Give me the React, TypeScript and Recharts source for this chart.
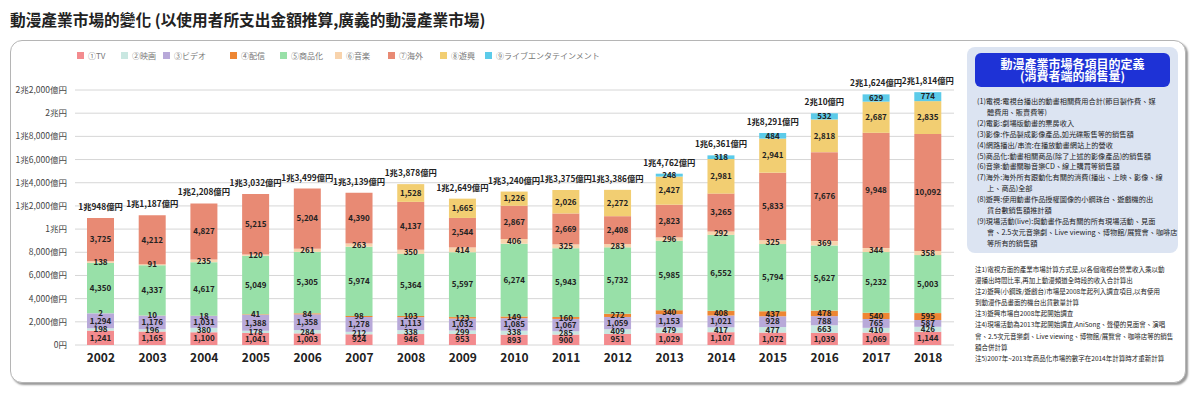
import React from 'react';
import { BarChart, Bar, XAxis, YAxis, CartesianGrid, Legend, LabelList } from 'recharts';

const years = ['2002', '2003', '2004', '2005', '2006', '2007', '2008', '2009', '2010', '2011', '2012', '2013', '2014', '2015', '2016', '2017', '2018'];
const tv = [1241, 1165, 1100, 1041, 1003, 924, 946, 953, 893, 900, 951, 1029, 1107, 1072, 1039, 1069, 1144];
const film = [198, 196, 380, 178, 284, 212, 338, 299, 338, 285, 409, 479, 417, 477, 663, 410, 426];
const video = [1294, 1176, 1031, 1388, 1358, 1278, 1113, 1032, 1085, 1067, 1059, 1153, 1021, 928, 788, 765, 587];
const stream = [2, 10, 18, 41, 84, 98, 103, 123, 149, 160, 272, 340, 408, 437, 478, 540, 595];
const merch = [4350, 4337, 4617, 5049, 5305, 5974, 5364, 5597, 6274, 5943, 5732, 5985, 6552, 5794, 5627, 5232, 5003];
const music = [138, 91, 235, 120, 261, 263, 350, 414, 406, 325, 283, 296, 292, 325, 369, 344, 358];
const overseas = [3725, 4212, 4827, 5215, 5204, 4390, 4137, 2544, 2867, 2669, 2408, 2823, 3265, 5833, 7676, 9948, 10092];
const pachinko = [0, 0, 0, 0, 0, 0, 1528, 1665, 1226, 2026, 2272, 2427, 2981, 2941, 2818, 2687, 2835];
const live = [0, 0, 0, 0, 0, 0, 0, 0, 0, 0, 0, 248, 318, 484, 532, 629, 774];
const totalLabels = ['1兆948億円', '1兆1,187億円', '1兆2,208億円', '1兆3,032億円', '1兆3,499億円', '1兆3,139億円', '1兆3,878億円', '1兆2,649億円', '1兆3,240億円', '1兆3,375億円', '1兆3,386億円', '1兆4,762億円', '1兆6,361億円', '1兆8,291億円', '2兆10億円', '2兆1,624億円', '2兆1,814億円'];
const yTicks = [0, 2000, 4000, 6000, 8000, 10000, 12000, 14000, 16000, 18000, 20000, 22000];

const series = [
  { key: 'tv', name: '①TV', color: '#F38B8E', values: tv },
  { key: 'film', name: '②映画', color: '#C9E7E1', values: film },
  { key: 'video', name: '③ビデオ', color: '#B8A9D9', values: video },
  { key: 'stream', name: '④配信', color: '#EE8633', values: stream },
  { key: 'merch', name: '⑤商品化', color: '#98E0A8', values: merch },
  { key: 'music', name: '⑥音楽', color: '#F8D3AC', values: music },
  { key: 'overseas', name: '⑦海外', color: '#E88A74', values: overseas },
  { key: 'pachinko', name: '⑧遊興', color: '#F2CE72', values: pachinko },
  { key: 'live', name: '⑨ライブエンタテインメント', color: '#5CCBE9', values: live },
];
const legendX = [77, 121, 163, 230, 280, 335, 388, 440, 485];

const definitions = [
  { t: '(1)電視:電視台播出的動畫相關費用合計(節目製作費、媒', i: false },
  { t: '體費用、販賣費等)', i: true },
  { t: '(2)電影:劇場版動畫的票房收入', i: false },
  { t: '(3)影像:作品製成影像產品,如光碟販售等的銷售額', i: false },
  { t: '(4)網路播出/串流:在播放動畫網站上的營收', i: false },
  { t: '(5)商品化:動畫相關商品(除了上述的影像產品)的銷售額', i: false },
  { t: '(6)音樂:動畫關聯音樂CD、線上購買等銷售額', i: false },
  { t: '(7)海外:海外所有跟動化有關的消費(播出、上映、影像、線', i: false },
  { t: '上、商品)全部', i: true },
  { t: '(8)遊興:使用動畫作品授權圖像的小鋼珠台、遊戲機的出', i: false },
  { t: '貨台數銷售額推計額', i: true },
  { t: '(9)現場活動(live):與動畫作品有關的所有現場活動、見面', i: false },
  { t: '會、2.5次元音樂劇、Live viewing、博物館/展覽會、咖啡店', i: true },
  { t: '等所有的銷售額', i: true },
];

const notes = [
  '注1)電視方面的產業市場計算方式是,以各個電視台營業收入乘以動',
  '漫播出時間比率,再加上動漫頻道全時段的收入合計算出',
  '注2)遊興(小鋼珠/遊戲台)市場是2008年起列入調查項目,以有使用',
  '到動漫作品畫面的機台出貨數量計算',
  '注3)遊興市場自2008年起開始調查',
  '注4)現場活動為2013年起開始調查,AniSong、聲優的見面會、演唱',
  '會、2.5次元音樂劇、Live viewing、博物館/展覽會、咖啡店等的銷售',
  '額合併計算',
  '注5)2007年~2013年商品化市場的數字在2014年計算時才重新計算',
];

const data = years.map((year, i) => {
  const row: any = { year, total: totalLabels[i] };
  series.forEach((s) => { row[s.key] = s.values[i]; });
  return row;
});

// highest non-zero segment of a row: that is where the total label sits
const topKeyOf = (row: any) => {
  let k = series[0].key;
  series.forEach((s) => { if (row[s.key] > 0) k = s.key; });
  return k;
};

const comma = (n: number) => String(n).replace(/\B(?=(\d{3})+(?!\d))/g, ',');
const yLabel = (v: number) => {
  if (v === 0) return '0円';
  if (v < 10000) return `${comma(v)}億円`;
  if (v % 10000 === 0) return `${v / 10000}兆円`;
  return `${Math.floor(v / 10000)}兆${comma(v % 10000)}億円`;
};

const FONT = '"Noto Sans CJK TC", "Noto Sans CJK JP", "Noto Sans", sans-serif';
const PLOT_TOP = 76;
const PLOT_H = 269;

const segLabel = (props: any) => {
  const vb = props.viewBox || props;
  const { x, y, width, height } = vb;
  const value = props.value;
  if (!value) return null;
  return (
    <text x={x + width / 2} y={y + height / 2} dy="0.35em" textAnchor="middle" fontSize={8} fontWeight={700} fill="#222" fontFamily={FONT}>
      {comma(value)}
    </text>
  );
};

const totalLabel = (props: any) => {
  if (!props.value) return null;
  const vb = props.viewBox || props;
  const { x, y, width } = vb;
  return (
    <text x={x + width / 2} y={y - 8} textAnchor="middle" fontSize={8.3} fontWeight={700} fill="#222" fontFamily={FONT}>
      {props.value}
    </text>
  );
};

const gridLine = (props: any) => {
  const { x1, x2, y1 } = props;
  const v = Math.round(((PLOT_TOP + PLOT_H - y1) / PLOT_H) * 22000);
  const dark = v === 4000 || v === 12000 || v === 20000;
  return <line key={`g${y1}`} x1={x1} x2={x2} y1={y1} y2={y1} stroke={dark ? '#9a9a9a' : '#d6d6d6'} strokeWidth={1} />;
};

const legendContent = () => (
  <div style={{ position: 'relative', height: 14, fontFamily: '"Noto Sans CJK JP", sans-serif' }}>
    {series.map((s, i) => (
      <div key={s.key} style={{ position: 'absolute', left: legendX[i], top: 0, display: 'flex', alignItems: 'center', fontSize: 8, color: '#777', whiteSpace: 'nowrap' }}>
        <span style={{ width: 7, height: 7, background: s.color, display: 'inline-block', marginRight: 4 }} />
        {s.name}
      </div>
    ))}
  </div>
);

export default function App() {
  return (
    <div style={{ position: 'absolute', left: 0, top: 0, width: 1200, height: 399, background: '#fff', fontFamily: FONT, overflow: 'hidden' }}>
      <div style={{ position: 'absolute', left: 10, top: 8, fontSize: 15.7, fontWeight: 700, color: '#222', whiteSpace: 'nowrap' }}>
        動漫產業市場的變化 (以使用者所支出金額推算,廣義的動漫產業市場)
      </div>
      <div style={{ position: 'absolute', left: 10, top: 40, width: 1174, height: 341, border: '1px solid #b5b5b5', borderRadius: 12, boxShadow: '2px 2px 2px #9a9a9a', background: '#fff' }} />
      <div style={{ position: 'absolute', left: 0, top: 0 }}>
        <BarChart width={958} height={399} data={data} margin={{ top: PLOT_TOP, right: 4, left: 10, bottom: 24 }} barSize={27}>
          <CartesianGrid vertical={false} horizontal={gridLine} />
          <XAxis dataKey="year" tickLine={false} axisLine={false} height={30} tick={{ fontSize: 12, fontWeight: 700, fill: '#222', fontFamily: FONT }} />
          <YAxis width={65} domain={[0, 22000]} ticks={yTicks} tickFormatter={yLabel} tickLine={false} axisLine={false} interval={0} tick={{ fontSize: 8.5, fill: '#444', fontFamily: FONT }} />
          <Legend verticalAlign="top" content={legendContent} wrapperStyle={{ top: 50, left: 0, width: 958 }} />
          {series.map((s) => (
            <Bar key={s.key} dataKey={s.key} name={s.name} stackId="a" fill={s.color} isAnimationActive={false}>
              <LabelList dataKey={s.key} content={segLabel} />
              <LabelList dataKey={(row: any) => (topKeyOf(row) === s.key ? row.total : null)} content={totalLabel} />
            </Bar>
          ))}
        </BarChart>
      </div>
      <div style={{ position: 'absolute', left: 967, top: 47, width: 211, height: 206, background: '#DCE4F2', borderRadius: 8 }} />
      <div style={{ position: 'absolute', left: 975, top: 53, width: 195, height: 34, background: '#1E32D6', borderRadius: 6, color: '#fff', fontWeight: 700, fontSize: 12, lineHeight: '12px', textAlign: 'center', display: 'flex', flexDirection: 'column', justifyContent: 'center' }}>
        <div>動漫產業市場各項目的定義</div>
        <div>(消費者端的銷售量)</div>
      </div>
      <div style={{ position: 'absolute', left: 977, top: 96, fontSize: 7.2, lineHeight: '10.9px', color: '#222', whiteSpace: 'nowrap' }}>
        {definitions.map((d, i) => (
          <div key={i} style={{ paddingLeft: d.i ? 10 : 0 }}>{d.t}</div>
        ))}
      </div>
      <div style={{ position: 'absolute', left: 975, top: 264, fontSize: 6.5, lineHeight: '11.1px', color: '#222', whiteSpace: 'nowrap' }}>
        {notes.map((n, i) => (
          <div key={i}>{n}</div>
        ))}
      </div>
    </div>
  );
}
